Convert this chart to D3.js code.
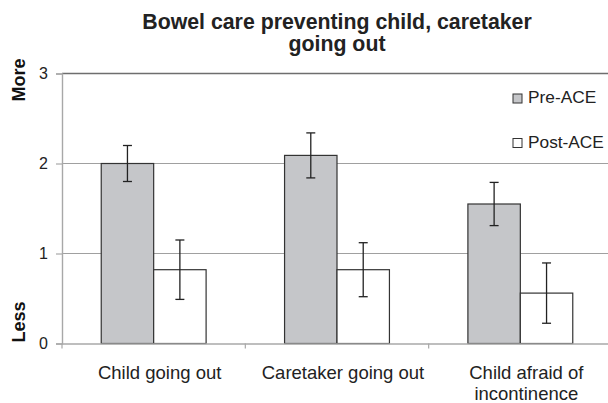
<!DOCTYPE html>
<html>
<head>
<meta charset="utf-8">
<script src="https://cdn.jsdelivr.net/npm/d3@7/dist/d3.min.js"></script>
<style>
  html, body { margin: 0; padding: 0; background: #fff; }
  svg { display: block; font-family: "Liberation Sans", Arial, sans-serif; }
</style>
</head>
<body>
<svg id="chart" width="608" height="403"></svg>
<script>
// Categories (multi-line labels) and series
const categories = ["Child going out", "Caretaker going out", "Child afraid of\nincontinence"];
const seriesNames = ["Pre-ACE", "Post-ACE"];
const preValues = [2.0, 2.09, 1.55];
const preErrors = [0.2, 0.25, 0.24];
const postValues = [0.82, 0.82, 0.56];
const postErrors = [0.33, 0.30, 0.335];
const yTicks = [0, 1, 2, 3];
const seriesFill = ["#c5c6c9", "#ffffff"];

const FONT = "Liberation Sans, Arial, sans-serif";
const svg = d3.select("#chart");
const margin = { left: 62, right: -4, top: 73.5, bottom: 59.5 };
const W = 608, H = 403;
const x0 = margin.left, x1 = W - margin.right;
const yTop = margin.top, yBot = H - margin.bottom;

const x = d3.scaleBand().domain(categories).range([x0, x1]).paddingInner(0).paddingOuter(0);
const y = d3.scaleLinear().domain([0, 3]).range([yBot, yTop]);
const groupPad = 0.214;
const xs = d3.scaleBand().domain(seriesNames)
  .range([x.bandwidth() * groupPad, x.bandwidth() * (1 - groupPad)]).padding(0);

const rows = categories.map((c, i) => ({
  cat: c,
  vals: [
    { s: seriesNames[0], v: preValues[i], e: preErrors[i], fill: seriesFill[0] },
    { s: seriesNames[1], v: postValues[i], e: postErrors[i], fill: seriesFill[1] }
  ]
}));

// Gridlines
svg.append("g").selectAll("line").data(yTicks.filter(t => t > 0)).join("line")
  .attr("x1", x0).attr("x2", x1)
  .attr("y1", d => y(d)).attr("y2", d => y(d))
  .attr("stroke", d => d === 3 ? "#6e6e6e" : "#a0a0a0")
  .attr("stroke-width", d => d === 3 ? 1.3 : 1.1);

// Y axis
const yAxis = svg.append("g").attr("transform", `translate(${x0},0)`)
  .call(d3.axisLeft(y).tickValues(yTicks).tickSize(6).tickPadding(8).tickFormat(d3.format("d")));
yAxis.select(".domain").attr("stroke", "#a8a8a8").attr("stroke-width", 1.4);
yAxis.selectAll(".tick line").attr("stroke", "#a8a8a8").attr("stroke-width", 1.2);
yAxis.selectAll(".tick text").attr("fill", "#222").attr("font-size", 16)
  .attr("font-family", FONT);

// Bars
const groups = svg.append("g").selectAll("g").data(rows).join("g")
  .attr("transform", d => `translate(${x(d.cat)},0)`);

groups.selectAll("rect").data(d => d.vals).join("rect")
  .attr("x", d => xs(d.s)).attr("width", xs.bandwidth())
  .attr("y", d => y(d.v)).attr("height", d => y(0) - y(d.v))
  .attr("fill", d => d.fill).attr("stroke", "#333").attr("stroke-width", 1.2);

// Error bars
const eb = groups.selectAll("g.err").data(d => d.vals).join("g").attr("class", "err")
  .attr("stroke", "#222").attr("stroke-width", 1.3);
eb.append("line")
  .attr("x1", d => xs(d.s) + xs.bandwidth() / 2).attr("x2", d => xs(d.s) + xs.bandwidth() / 2)
  .attr("y1", d => y(d.v + d.e)).attr("y2", d => y(d.v - d.e));
[1, -1].forEach(sign => {
  eb.append("line")
    .attr("x1", d => xs(d.s) + xs.bandwidth() / 2 - 4.5)
    .attr("x2", d => xs(d.s) + xs.bandwidth() / 2 + 4.5)
    .attr("y1", d => y(d.v + sign * d.e)).attr("y2", d => y(d.v + sign * d.e));
});

// X axis
const xAxis = svg.append("g").attr("transform", `translate(0,${yBot})`)
  .call(d3.axisBottom(x).tickSize(0).tickFormat(""));
xAxis.select(".domain").attr("stroke", "#a8a8a8").attr("stroke-width", 1.4);
// Category separators
const sepPos = [x0].concat(categories.map(c => x(c) + x.bandwidth()));
xAxis.append("g").selectAll("line").data(sepPos).join("line")
  .attr("x1", d => d).attr("x2", d => d).attr("y1", 0).attr("y2", 5)
  .attr("stroke", "#a8a8a8").attr("stroke-width", 1.2);

// Category labels (sit slightly right of the band centre)
const labelShift = 6;
const lab = svg.append("g").selectAll("text").data(categories).join("text")
  .attr("x", d => x(d) + x.bandwidth() / 2 + labelShift).attr("y", yBot + 35)
  .attr("text-anchor", "middle").attr("font-size", 18.5).attr("fill", "#222");
lab.each(function (d) {
  const t = d3.select(this);
  d.split("\n").forEach((line, i) => {
    t.append("tspan").attr("x", x(d) + x.bandwidth() / 2 + labelShift)
      .attr("dy", i === 0 ? 0 : 21.5).text(line);
  });
});

// Y end labels
svg.append("text").attr("transform", `translate(25,80) rotate(-90)`)
  .attr("text-anchor", "middle").attr("font-size", 18).attr("font-weight", "bold")
  .attr("fill", "#111").text("More");
svg.append("text").attr("transform", `translate(25,322) rotate(-90)`)
  .attr("text-anchor", "middle").attr("font-size", 18).attr("font-weight", "bold")
  .attr("fill", "#111").text("Less");

// Title
const tx = (x0 + x1) / 2;
const title = svg.append("text").attr("text-anchor", "middle").attr("font-size", 21.3)
  .attr("font-weight", "bold").attr("fill", "#222");
title.append("tspan").attr("x", tx).attr("y", 28.5).text("Bowel care preventing child, caretaker");
title.append("tspan").attr("x", tx).attr("y", 51).text("going out");

// Legend
const legend = svg.append("g").selectAll("g").data(seriesNames).join("g")
  .attr("transform", (d, i) => `translate(513,${94 + i * 44.5})`);
legend.append("rect").attr("width", 9).attr("height", 9)
  .attr("fill", (d, i) => seriesFill[i]).attr("stroke", "#333").attr("stroke-width", 1);
legend.append("text").attr("x", 15).attr("y", 9.3).attr("font-size", 17.3).attr("fill", "#222")
  .text(d => d);
</script>
</body>
</html>
